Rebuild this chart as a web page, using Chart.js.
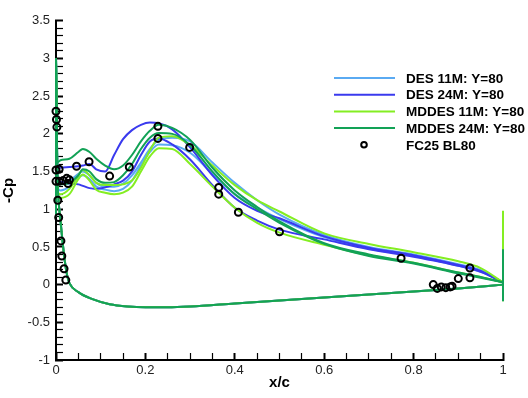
<!DOCTYPE html>
<html>
<head>
<meta charset="utf-8">
<script src="https://cdn.jsdelivr.net/npm/chart.js@4.4.1/dist/chart.umd.min.js"></script>
<style>
    html, body { margin: 0; padding: 0; background: #fff; }
    #wrap { width: 528px; height: 398px; }
</style>
</head>
<body>
<div id="wrap"><canvas id="cp"></canvas></div>
<script>
// Upper surface stations (x/c) shared by all computed curves
const xUpper = [0, 0.003, 0.01, 0.03, 0.05, 0.06, 0.075, 0.09, 0.11, 0.13, 0.15, 0.17, 0.19, 0.21, 0.23, 0.26, 0.3, 0.35, 0.4, 0.45, 0.5, 0.6, 0.7, 0.8, 0.9, 0.95, 1.0];

// -Cp, two upper-surface traces per run
const des11A = [3.0, 1.5, 1.35, 1.38, 1.47, 1.5, 1.45, 1.35, 1.3, 1.3, 1.34, 1.45, 1.62, 1.8, 1.92, 1.95, 1.9, 1.62, 1.35, 1.12, 0.93, 0.66, 0.5, 0.4, 0.27, 0.19, 0.03];
const des11B = [3.0, 1.3, 1.25, 1.3, 1.42, 1.45, 1.4, 1.3, 1.26, 1.24, 1.27, 1.38, 1.58, 1.76, 1.86, 1.85, 1.75, 1.47, 1.2, 1.02, 0.87, 0.63, 0.48, 0.38, 0.25, 0.17, 0.03];
const des24A = [3.0, 1.6, 1.55, 1.56, 1.57, 1.58, 1.6, 1.53, 1.5, 1.72, 1.93, 2.05, 2.12, 2.15, 2.14, 2.06, 1.82, 1.45, 1.15, 0.98, 0.88, 0.64, 0.49, 0.39, 0.26, 0.18, 0.03];
const des24B = [3.0, 1.4, 1.36, 1.34, 1.33, 1.31, 1.28, 1.27, 1.29, 1.33, 1.38, 1.5, 1.72, 1.9, 1.94, 1.86, 1.66, 1.32, 1.02, 0.85, 0.73, 0.6, 0.47, 0.37, 0.25, 0.17, 0.03];
const mdd11A = [3.0, 1.25, 1.2, 1.27, 1.45, 1.52, 1.45, 1.35, 1.32, 1.32, 1.33, 1.38, 1.55, 1.78, 1.95, 1.97, 1.85, 1.58, 1.32, 1.12, 0.97, 0.68, 0.54, 0.43, 0.31, 0.22, 0.03];
const mdd11B = [3.0, 1.2, 1.15, 1.2, 1.4, 1.46, 1.38, 1.26, 1.22, 1.2, 1.22, 1.3, 1.5, 1.7, 1.81, 1.8, 1.6, 1.3, 1.02, 0.82, 0.69, 0.53, 0.39, 0.29, 0.16, 0.1, 0.03];
const mdd24A = [3.0, 1.62, 1.65, 1.67, 1.76, 1.8, 1.76, 1.67, 1.58, 1.53, 1.58, 1.72, 1.9, 2.04, 2.12, 2.08, 1.92, 1.55, 1.25, 1.03, 0.84, 0.55, 0.4, 0.29, 0.16, 0.1, 0.03];
const mdd24B = [3.0, 1.4, 1.33, 1.35, 1.45, 1.53, 1.5, 1.4, 1.35, 1.36, 1.45, 1.6, 1.8, 1.95, 2.01, 2.0, 1.85, 1.5, 1.2, 1.0, 0.82, 0.54, 0.38, 0.28, 0.15, 0.09, 0.03];

// Lower surface (all runs sit on top of each other here)
const xLower = [0, 0.003, 0.006, 0.01, 0.015, 0.02, 0.025, 0.03, 0.05, 0.08, 0.12, 0.16, 0.2, 0.25, 0.3, 0.4, 0.5, 0.6, 0.7, 0.8, 0.9, 1.0];
const cpLower = [3.0, 1.5, 1.1, 0.85, 0.55, 0.3, 0.12, 0.02, -0.1, -0.19, -0.26, -0.29, -0.3, -0.3, -0.29, -0.25, -0.21, -0.17, -0.13, -0.09, -0.05, 0.0];

// Leading and trailing edge spikes
const xLe = [0, 0];
const cpLe = [3.0, 0.9];
const xTe = [1, 1];
const mdd11Te = [0.98, -0.22];
const mdd24Te = [0.47, -0.22];

// Experiment FC25 BL80
const expX = [0, 0.001, 0.002, 0, 0.007, 0, 0.007, 0.016, 0.024, 0.027, 0.03, 0.004, 0.006, 0.011, 0.013, 0.018, 0.022, 0.046, 0.074, 0.12, 0.164, 0.228, 0.228, 0.299, 0.364, 0.364, 0.408, 0.5, 0.772, 0.926, 0.926, 0.9, 0.844, 0.853, 0.862, 0.872, 0.882, 0.886];
const expCp = [2.3, 2.19, 2.09, 1.52, 1.53, 1.37, 1.37, 1.38, 1.41, 1.34, 1.39, 1.12, 0.89, 0.58, 0.38, 0.21, 0.06, 1.57, 1.63, 1.44, 1.56, 1.94, 2.1, 1.82, 1.29, 1.2, 0.96, 0.7, 0.35, 0.22, 0.09, 0.08, 0.0, -0.05, -0.03, -0.04, -0.03, -0.02];

// labelled ticks; minor ticks sit between them
const xTicks = [0, 0.2, 0.4, 0.6, 0.8, 1];
const yTicks = [-1, -0.5, 0, 0.5, 1, 1.5, 2, 2.5, 3, 3.5];

const colors = {
    des11: '#5aaaf2',
    des24: '#3a3aee',
    mdd11: '#84ee22',
    mdd24: '#12a256'
};

const legendItems = [
    { label: 'DES 11M: Y=80', color: colors.des11 },
    { label: 'DES 24M: Y=80', color: colors.des24 },
    { label: 'MDDES 11M: Y=80', color: colors.mdd11 },
    { label: 'MDDES 24M: Y=80', color: colors.mdd24 },
    { label: 'FC25 BL80', color: '#000', symbol: true }
];

function pts(xs, ys) {
    return xs.map((x, i) => ({ x: x, y: ys[i] }));
}

function curve(xs, ys, color) {
    return {
        data: pts(xs, ys),
        borderColor: color,
        backgroundColor: color,
        borderWidth: 2,
        pointRadius: 0,
        showLine: true,
        fill: false,
        clip: false,
        cubicInterpolationMode: 'monotone'
    };
}

// straight segment, no spline
function spike(xs, ys, color) {
    return {
        data: pts(xs, ys),
        borderColor: color,
        borderWidth: 2,
        pointRadius: 0,
        showLine: true,
        fill: false,
        clip: false,
        tension: 0
    };
}

// first dataset is painted last, so the experiment goes first
const datasets = [
    {
        data: pts(expX, expCp),
        showLine: false,
        pointStyle: 'circle',
        pointRadius: 3.5,
        pointBorderWidth: 2,
        pointBorderColor: '#000',
        pointBackgroundColor: 'rgba(0,0,0,0)',
        clip: false
    },
    spike(xLe, cpLe, colors.mdd24),
    spike(xTe, mdd24Te, colors.mdd24),
    curve(xLower, cpLower, colors.mdd24),
    curve(xUpper, mdd24B, colors.mdd24),
    curve(xUpper, mdd24A, colors.mdd24),
    spike(xTe, mdd11Te, colors.mdd11),
    curve(xLower, cpLower, colors.mdd11),
    curve(xUpper, mdd11B, colors.mdd11),
    curve(xUpper, mdd11A, colors.mdd11),
    curve(xLower, cpLower, colors.des24),
    curve(xUpper, des24B, colors.des24),
    curve(xUpper, des24A, colors.des24),
    curve(xLower, cpLower, colors.des11),
    curve(xUpper, des11B, colors.des11),
    curve(xUpper, des11A, colors.des11)
];

// major + minor tick list for a scale
function withMinor(labels, step, from, to) {
    const out = [];
    const n = Math.round((to - from) / step);
    for (let i = 0; i <= n; i++) {
        const v = Math.round((from + i * step) * 1000) / 1000;
        out.push({ value: v, major: labels.includes(v) });
    }
    return out;
}

// Legend box in the upper right
const boxLegend = {
    id: 'boxLegend',
    afterDraw(chart) {
        const ctx = chart.ctx;
        ctx.save();
        ctx.font = 'bold 13.5px "Liberation Sans", Arial, sans-serif';
        ctx.textBaseline = 'middle';
        ctx.textAlign = 'left';
        legendItems.forEach((it, i) => {
            const y = 78 + i * 16.7;
            ctx.lineWidth = 2;
            ctx.strokeStyle = it.color;
            ctx.beginPath();
            if (it.symbol) {
                ctx.arc(364, y, 2.8, 0, Math.PI * 2);
            } else {
                ctx.moveTo(334, y);
                ctx.lineTo(395, y);
            }
            ctx.stroke();
            ctx.fillStyle = '#000';
            ctx.fillText(it.label, 406, y + 1);
        });
        ctx.restore();
    }
};

const fontFamily = '"Liberation Sans", Arial, sans-serif';
const tickWidth = c => (c.tick && c.tick.major) ? 2 : 1.2;

new Chart(document.getElementById('cp'), {
    type: 'scatter',
    data: { datasets: datasets },
    options: {
        responsive: true,
        maintainAspectRatio: false,
        animation: false,
        layout: { padding: { top: 12, right: 25, left: 0, bottom: 0 } },
        plugins: {
            legend: { display: false },
            tooltip: { enabled: false }
        },
        scales: {
            x: {
                type: 'linear',
                min: 0,
                max: 1,
                afterBuildTicks: s => { s.ticks = withMinor(xTicks, 0.05, 0, 1); },
                afterFit: s => { s.height = 38; },
                grid: {
                    display: true,
                    drawOnChartArea: false,
                    drawTicks: true,
                    tickLength: -7,
                    tickColor: '#000',
                    tickWidth: tickWidth
                },
                border: { display: true, color: '#000', width: 2 },
                ticks: {
                    autoSkip: false,
                    maxRotation: 0,
                    padding: 10,
                    color: '#222',
                    font: { family: fontFamily, size: 13 },
                    callback: (v, i, ticks) => ticks[i].major ? String(v) : ''
                },
                title: {
                    display: true,
                    text: 'x/c',
                    color: '#000',
                    padding: { top: 0, bottom: 6 },
                    font: { family: fontFamily, size: 15, weight: 'bold' }
                }
            },
            y: {
                type: 'linear',
                min: -1,
                max: 3.5,
                afterBuildTicks: s => { s.ticks = withMinor(yTicks, 0.1, -1, 3.5); },
                afterFit: s => { s.width = 56; },
                grid: {
                    display: true,
                    drawOnChartArea: false,
                    drawTicks: true,
                    tickLength: -7,
                    tickColor: '#000',
                    tickWidth: tickWidth
                },
                border: { display: true, color: '#000', width: 2 },
                ticks: {
                    autoSkip: false,
                    padding: 13,
                    color: '#222',
                    font: { family: fontFamily, size: 13 },
                    callback: (v, i, ticks) => ticks[i].major ? String(v) : ''
                },
                title: {
                    display: true,
                    text: '-Cp',
                    color: '#000',
                    padding: { top: 0, bottom: 0 },
                    font: { family: fontFamily, size: 15, weight: 'bold' }
                }
            }
        }
    },
    plugins: [boxLegend]
});
</script>
</body>
</html>
